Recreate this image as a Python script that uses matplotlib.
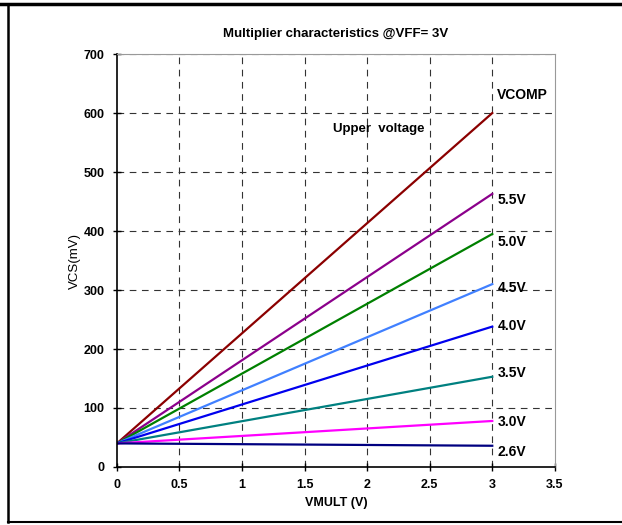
import matplotlib.pyplot as plt
from matplotlib.lines import Line2D

plt.rcParams['font.family'] = ['Liberation Sans', 'DejaVu Sans']

# VCS at VMULT = 0 and 3 V for each comparator voltage
vmult = [0, 3]
labels = ['VCOMP', '5.5V', '5.0V', '4.5V', '4.0V', '3.5V', '3.0V', '2.6V']
vcs_start = [40, 40, 40, 40, 40, 40, 40, 40]
vcs_end = [600, 463, 395, 310, 238, 153, 78, 36]
colors = ['#8b0000', '#8b008b', '#008000', '#4080ff', '#0000ee', '#008080', '#ff00ff', '#000080']
label_y = [630, 453, 381, 304, 239, 159, 77, 26]

fig = plt.figure(figsize=(6.22, 5.25), dpi=100)
ax = fig.add_axes([0.188, 0.1105, 0.704, 0.7865])

for lab, y0, y1, c in zip(labels, vcs_start, vcs_end, colors):
    ax.plot(vmult, [y0, y1], color=c, lw=1.6)

for lab, ly in zip(labels, label_y):
    ax.text(3.04, ly, lab, fontsize=10, fontweight='bold', va='center', ha='left')

ax.text(1.73, 573, 'Upper  voltage', fontsize=9.5, fontweight='bold', va='center', ha='left')

ax.set_xlim(0, 3.5)
ax.set_ylim(0, 700)
ax.set_xticks([0, 0.5, 1, 1.5, 2, 2.5, 3, 3.5])
ax.set_xticklabels(['0', '0.5', '1', '1.5', '2', '2.5', '3', '3.5'])
ax.set_yticks(range(0, 701, 100))
ax.tick_params(direction='inout', length=6, width=1, labelsize=9, pad=6)
for t in ax.get_xticklabels() + ax.get_yticklabels():
    t.set_fontweight('bold')

for x in [0.5, 1, 1.5, 2, 2.5, 3]:
    ax.axvline(x, color='#333333', lw=0.8, ls=(0, (6, 5)), zorder=0)
for y in range(100, 701, 100):
    ax.axhline(y, color='#333333', lw=0.8, ls=(0, (6, 5)), zorder=0)

ax.spines['top'].set_color('#999999')
ax.spines['right'].set_color('#999999')
ax.spines['left'].set_linewidth(1.2)
ax.spines['bottom'].set_linewidth(1.2)

ax.set_title('Multiplier characteristics @VFF= 3V', fontsize=9.5, fontweight='bold', pad=12)
ax.set_xlabel('VMULT (V)', fontsize=9, fontweight='bold', labelpad=4)
ax.set_ylabel('VCS(mV)', fontsize=9.5, labelpad=2)

# frame around the figure
fig.add_artist(Line2D([0, 1], [0.993, 0.993], color='black', lw=2.5, transform=fig.transFigure))
fig.add_artist(Line2D([0.013, 0.013], [0.006, 0.993], color='black', lw=1.8, transform=fig.transFigure))
fig.add_artist(Line2D([0.013, 1], [0.006, 0.006], color='black', lw=1.5, transform=fig.transFigure))

fig.savefig('out.png', dpi=100)
